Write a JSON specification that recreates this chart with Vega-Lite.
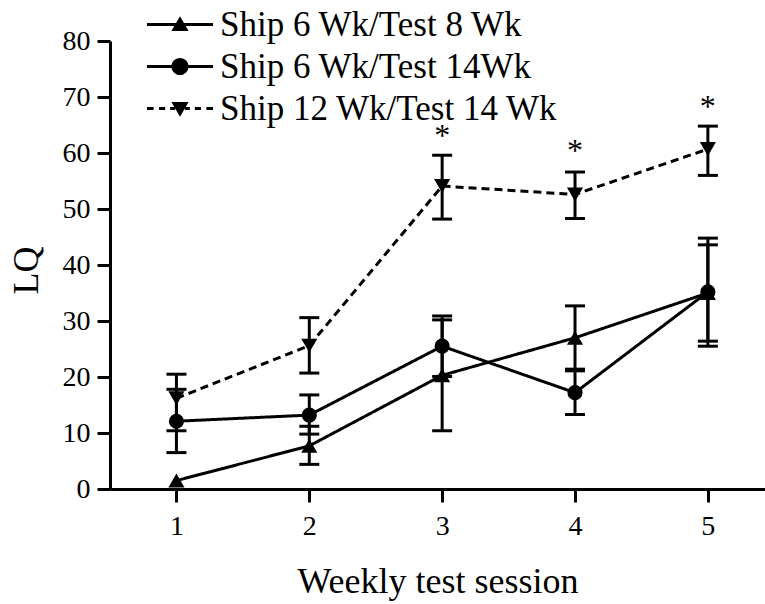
{
  "$schema": "https://vega.github.io/schema/vega-lite/v6.json",
  "width": 655,
  "height": 448,
  "autosize": {"type": "none"},
  "padding": {"left": 110, "top": 41, "right": 0, "bottom": 115},
  "config": {
    "view": {"stroke": null},
    "font": "Liberation Serif",
    "axis": {
      "domainColor": "black", "domainWidth": 3,
      "tickColor": "black", "tickWidth": 3, "tickSize": 13,
      "grid": false,
      "labelFont": "Liberation Serif", "labelFontSize": 28, "labelColor": "black",
      "labelFlush": false, "labelOverlap": false,
      "titleFont": "Liberation Serif", "titleFontWeight": "normal", "titleColor": "black"
    },
    "legend": {
      "labelFont": "Liberation Serif", "labelFontSize": 35, "labelColor": "black",
      "padding": 0
    }
  },
  "datasets": {
    "lq": [
      {"session": 1, "series": "Ship 6 Wk/Test 8 Wk", "mean": 1.5, "lo": null, "hi": null},
      {"session": 2, "series": "Ship 6 Wk/Test 8 Wk", "mean": 7.7, "lo": 4.4, "hi": 11.2},
      {"session": 3, "series": "Ship 6 Wk/Test 8 Wk", "mean": 20.3, "lo": 10.4, "hi": 30.2},
      {"session": 4, "series": "Ship 6 Wk/Test 8 Wk", "mean": 27.0, "lo": 21.4, "hi": 32.7},
      {"session": 5, "series": "Ship 6 Wk/Test 8 Wk", "mean": 35.0, "lo": 26.4, "hi": 43.6},
      {"session": 1, "series": "Ship 6 Wk/Test 14Wk", "mean": 12.1, "lo": 6.5, "hi": 17.8},
      {"session": 2, "series": "Ship 6 Wk/Test 14Wk", "mean": 13.2, "lo": 9.8, "hi": 16.8},
      {"session": 3, "series": "Ship 6 Wk/Test 14Wk", "mean": 25.5, "lo": 20.1, "hi": 30.9},
      {"session": 4, "series": "Ship 6 Wk/Test 14Wk", "mean": 17.2, "lo": 13.3, "hi": 21.1},
      {"session": 5, "series": "Ship 6 Wk/Test 14Wk", "mean": 35.2, "lo": 25.5, "hi": 44.8},
      {"session": 1, "series": "Ship 12 Wk/Test 14 Wk", "mean": 16.2, "lo": 10.4, "hi": 20.5},
      {"session": 2, "series": "Ship 12 Wk/Test 14 Wk", "mean": 25.6, "lo": 20.7, "hi": 30.6},
      {"session": 3, "series": "Ship 12 Wk/Test 14 Wk", "mean": 54.1, "lo": 48.2, "hi": 59.6},
      {"session": 4, "series": "Ship 12 Wk/Test 14 Wk", "mean": 52.6, "lo": 48.3, "hi": 56.6},
      {"session": 5, "series": "Ship 12 Wk/Test 14 Wk", "mean": 60.7, "lo": 56.0, "hi": 64.8}
    ],
    "stars": [
      {"session": 3, "y": 61.2, "label": "*"},
      {"session": 4, "y": 58.6, "label": "*"},
      {"session": 5, "y": 66.4, "label": "*"}
    ]
  },
  "resolve": {"scale": {"shape": "independent"}, "legend": {"shape": "independent"}},
  "layer": [
    {
      "data": {"name": "lq"},
      "mark": {"type": "line", "color": "black", "strokeWidth": 3},
      "encoding": {
        "x": {"field": "session", "type": "quantitative", "title": "Weekly test session",
          "scale": {"domain": [0.5, 5.43], "nice": false, "zero": false},
          "axis": {"values": [1, 2, 3, 4, 5], "format": "d", "labelPadding": 10,
            "labelFont": "Liberation Serif", "labelFontSize": 28,
            "titleFontSize": 36, "titleY": 103, "titleBaseline": "alphabetic"}},
        "y": {"field": "mean", "type": "quantitative", "title": "LQ",
          "scale": {"domain": [0, 80], "nice": false},
          "axis": {"values": [0, 10, 20, 30, 40, 50, 60, 70, 80], "labelPadding": 7,
            "labelFont": "Liberation Serif", "labelFontSize": 28,
            "titleFontSize": 36, "titleAngle": 270, "titleX": -73, "titleY": 229,
            "titleBaseline": "alphabetic", "titleAlign": "center"}},
        "detail": {"field": "series"},
        "strokeDash": {"field": "series", "type": "nominal", "legend": null,
          "scale": {"domain": ["Ship 6 Wk/Test 8 Wk", "Ship 6 Wk/Test 14Wk", "Ship 12 Wk/Test 14 Wk"],
            "range": [[1, 0], [1, 0], [8, 5]]}}
      }
    },
    {
      "data": {"name": "lq"},
      "transform": [{"filter": "isValid(datum.lo)"}],
      "mark": {"type": "errorbar", "color": "black", "thickness": 3, "opacity": 1,
        "rule": {"opacity": 1, "color": "black"},
        "ticks": {"size": 20, "thickness": 3, "color": "black", "opacity": 1}},
      "encoding": {
        "x": {"field": "session", "type": "quantitative", "title": "Weekly test session"},
        "y": {"field": "lo", "type": "quantitative", "title": "LQ"},
        "y2": {"field": "hi"}
      }
    },
    {
      "data": {"name": "lq"},
      "transform": [{"filter": "datum.series == 'Ship 6 Wk/Test 8 Wk'"}],
      "mark": {"type": "point", "shape": "triangle-up", "filled": true, "color": "black", "opacity": 1, "size": 260},
      "encoding": {
        "x": {"field": "session", "type": "quantitative", "title": "Weekly test session"},
        "y": {"field": "mean", "type": "quantitative", "title": "LQ"}
      }
    },
    {
      "data": {"name": "lq"},
      "transform": [{"filter": "datum.series == 'Ship 6 Wk/Test 14Wk'"}],
      "mark": {"type": "point", "shape": "circle", "filled": true, "color": "black", "opacity": 1, "size": 230},
      "encoding": {
        "x": {"field": "session", "type": "quantitative", "title": "Weekly test session"},
        "y": {"field": "mean", "type": "quantitative", "title": "LQ"}
      }
    },
    {
      "data": {"name": "lq"},
      "transform": [{"filter": "datum.series == 'Ship 12 Wk/Test 14 Wk'"}],
      "mark": {"type": "point", "shape": "triangle-down", "filled": true, "color": "black", "opacity": 1, "size": 260},
      "encoding": {
        "x": {"field": "session", "type": "quantitative", "title": "Weekly test session"},
        "y": {"field": "mean", "type": "quantitative", "title": "LQ"}
      }
    },
    {
      "data": {"name": "lq"},
      "transform": [{"filter": "datum.series == 'none'"}],
      "mark": {"type": "point", "filled": true, "color": "black", "opacity": 1},
      "encoding": {
        "shape": {"field": "series", "type": "nominal",
          "scale": {"domain": ["Ship 6 Wk/Test 8 Wk", "Ship 6 Wk/Test 14Wk", "Ship 12 Wk/Test 14 Wk"],
            "range": [
              "M-2 -0.09L2 -0.09L2 0.09L-2 0.09ZM0 -0.5L0.52 0.4L-0.52 0.4Z",
              "M-2 -0.09L2 -0.09L2 0.09L-2 0.09ZM0.52 0C0.52 0.287 0.287 0.52 0 0.52C-0.287 0.52 -0.52 0.287 -0.52 0C-0.52 -0.287 -0.287 -0.52 0 -0.52C0.287 -0.52 0.52 -0.287 0.52 0Z",
              "M-2 -0.09L-1.6 -0.09L-1.6 0.09L-2 0.09ZM-1.27 -0.09L-0.9 -0.09L-0.9 0.09L-1.27 0.09ZM-0.6 -0.09L-0.3 -0.09L-0.3 0.09L-0.6 0.09ZM0.3 -0.09L0.6 -0.09L0.6 0.09L0.3 0.09ZM0.9 -0.09L1.27 -0.09L1.27 0.09L0.9 0.09ZM1.6 -0.09L2 -0.09L2 0.09L1.6 0.09ZM0 0.5L-0.52 -0.4L0.52 -0.4Z"
            ]},
          "legend": {"title": null, "orient": "none", "legendX": 52.5, "legendY": -34,
            "symbolSize": 1089, "symbolOpacity": 1, "symbolFillColor": "black",
            "labelOffset": 22.5, "rowPadding": 6, "labelFontSize": 35, "labelLimit": 500}}
      }
    },
    {
      "data": {"name": "stars"},
      "mark": {"type": "text", "fontSize": 32, "font": "Liberation Serif", "baseline": "alphabetic", "align": "center", "color": "black"},
      "encoding": {
        "x": {"field": "session", "type": "quantitative", "title": "Weekly test session"},
        "y": {"field": "y", "type": "quantitative", "title": "LQ"},
        "text": {"field": "label"}
      }
    }
  ]
}
